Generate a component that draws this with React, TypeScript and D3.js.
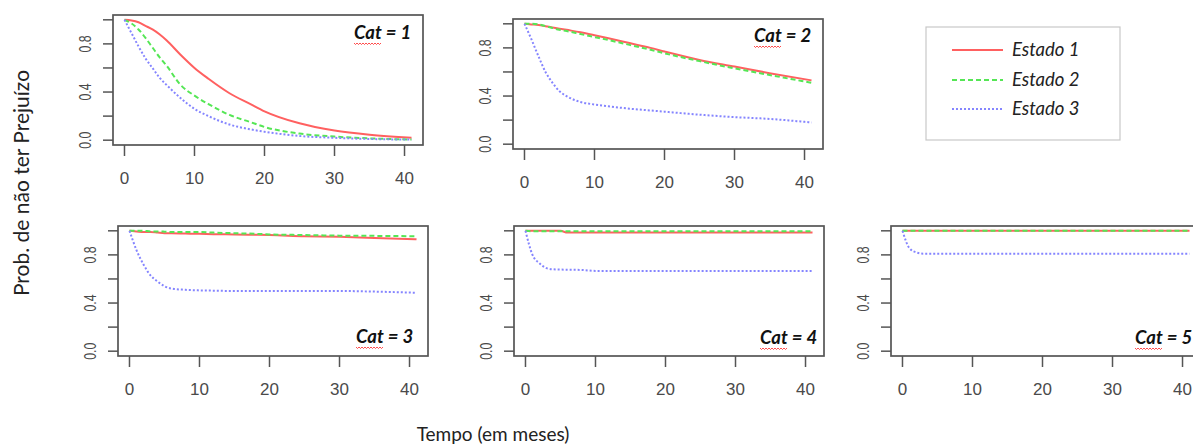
import React from "react";
import * as d3 from "d3";

// tempo (meses) onde as curvas foram lidas
const months = [0, 1, 2, 3, 4, 5, 6, 8, 10, 12, 15, 18, 20, 25, 30, 35, 41];

const states = ["Estado 1", "Estado 2", "Estado 3"];
const categories = ["Cat = 1", "Cat = 2", "Cat = 3", "Cat = 4", "Cat = 5"];

const cat1Estado1 = [1.0, 0.995, 0.98, 0.95, 0.92, 0.88, 0.83, 0.71, 0.6, 0.51, 0.39, 0.3, 0.24, 0.14, 0.08, 0.045, 0.02];
const cat1Estado2 = [1.0, 0.97, 0.92, 0.85, 0.77, 0.69, 0.62, 0.46, 0.37, 0.3, 0.21, 0.15, 0.11, 0.055, 0.03, 0.015, 0.005];
const cat1Estado3 = [1.0, 0.89, 0.78, 0.68, 0.6, 0.52, 0.46, 0.35, 0.26, 0.2, 0.13, 0.09, 0.07, 0.035, 0.02, 0.01, 0.005];

const cat2Estado1 = [1.0, 0.995, 0.99, 0.98, 0.97, 0.96, 0.95, 0.93, 0.905, 0.88, 0.84, 0.8, 0.77, 0.7, 0.645, 0.59, 0.53];
const cat2Estado2 = [1.0, 1.0, 0.995, 0.98, 0.965, 0.95, 0.94, 0.915, 0.89, 0.865, 0.825, 0.785, 0.755, 0.69, 0.63, 0.575, 0.51];
const cat2Estado3 = [1.0, 0.87, 0.73, 0.6, 0.51, 0.44, 0.4, 0.35, 0.33, 0.315, 0.295, 0.28, 0.27, 0.245, 0.225, 0.21, 0.18];

const cat3Estado1 = [1.0, 0.995, 0.99, 0.99, 0.985, 0.98, 0.98, 0.977, 0.975, 0.972, 0.97, 0.967, 0.965, 0.955, 0.95, 0.94, 0.93];
const cat3Estado2 = [1.0, 1.0, 1.0, 0.995, 0.995, 0.993, 0.99, 0.99, 0.99, 0.985, 0.98, 0.975, 0.97, 0.965, 0.96, 0.958, 0.955];
const cat3Estado3 = [1.0, 0.84, 0.72, 0.63, 0.58, 0.54, 0.52, 0.51, 0.505, 0.503, 0.5, 0.5, 0.5, 0.5, 0.5, 0.495, 0.485];

const cat4Estado1 = [1.0, 1.0, 1.0, 1.0, 1.0, 1.0, 0.985, 0.985, 0.985, 0.985, 0.985, 0.985, 0.985, 0.985, 0.985, 0.985, 0.985];
const cat4Estado2 = [1.0, 0.997, 0.997, 0.997, 0.997, 0.997, 0.997, 0.997, 0.997, 0.997, 0.997, 0.997, 0.997, 0.997, 0.997, 0.997, 0.997];
const cat4Estado3 = [1.0, 0.8, 0.73, 0.69, 0.68, 0.678, 0.677, 0.675, 0.667, 0.667, 0.667, 0.667, 0.667, 0.667, 0.667, 0.667, 0.667];

const cat5Estado1 = [1.0, 1.0, 1.0, 1.0, 1.0, 1.0, 1.0, 1.0, 1.0, 1.0, 1.0, 1.0, 1.0, 1.0, 1.0, 1.0, 1.0];
const cat5Estado2 = [1.0, 1.0, 1.0, 1.0, 1.0, 1.0, 1.0, 1.0, 1.0, 1.0, 1.0, 1.0, 1.0, 1.0, 1.0, 1.0, 1.0];
const cat5Estado3 = [1.0, 0.855, 0.82, 0.81, 0.81, 0.81, 0.81, 0.81, 0.81, 0.81, 0.81, 0.81, 0.81, 0.81, 0.81, 0.81, 0.81];

const seriesByCat = [
  [cat1Estado1, cat1Estado2, cat1Estado3],
  [cat2Estado1, cat2Estado2, cat2Estado3],
  [cat3Estado1, cat3Estado2, cat3Estado3],
  [cat4Estado1, cat4Estado2, cat4Estado3],
  [cat5Estado1, cat5Estado2, cat5Estado3],
];

const xTicks = [0, 10, 20, 30, 40];
const yTicks = [0, 0.2, 0.4, 0.6, 0.8, 1.0];
const yTickLabels = ["0.0", "", "0.4", "", "0.8", ""];

// estilos das linhas (cores do R: 2, 3, 4 com lty 1, 2, 3)
const lineColors = ["#ff6060", "#55e655", "#8585ff"];
const lineDash = [null, "5,3", "2,2"];

// posição de cada painel na página
const panels = [
  { left: 113, top: 15, labelX: 354, labelY: 39 },
  { left: 513, top: 19, labelX: 754, labelY: 42 },
  { left: 118, top: 226, labelX: 356, labelY: 343 },
  { left: 514, top: 226, labelX: 760, labelY: 344 },
  { left: 891, top: 226, labelX: 1135, labelY: 344 },
];
const boxW = 310;
const boxH = 130;

const axisColor = "#555";
const tickFont = "'Liberation Sans', Arial, sans-serif";
const textFont = "Lato, 'Open Sans', sans-serif";

const Squiggle = ({ x, y, w }: { x: number; y: number; w: number }) => {
  let d = `M${x},${y}`;
  for (let i = 0; i < w; i += 3) d += ` l1.5,1.5 l1.5,-1.5`;
  return <path d={d} fill="none" stroke="#ff2020" strokeWidth={0.8} />;
};

const Panel = ({ idx }: { idx: number }) => {
  const p = panels[idx];
  const x = d3.scaleLinear().domain([-1.64, 42.64]).range([p.left, p.left + boxW]);
  const y = d3.scaleLinear().domain([-0.04, 1.04]).range([p.top + boxH, p.top]);
  const line = d3
    .line<number>()
    .x((_, i) => x(months[i]))
    .y((d) => y(d))
    .curve(d3.curveMonotoneX);
  const bottom = p.top + boxH;

  return (
    <g>
      <defs>
        <clipPath id={`clip${idx}`}>
          <rect x={p.left} y={p.top} width={boxW} height={boxH} />
        </clipPath>
      </defs>
      <g clipPath={`url(#clip${idx})`}>
        {seriesByCat[idx].map((s, k) => (
          <path
            key={k}
            d={line(s) || ""}
            fill="none"
            stroke={lineColors[k]}
            strokeWidth={2}
            strokeDasharray={lineDash[k] || undefined}
          />
        ))}
      </g>
      <rect x={p.left} y={p.top} width={boxW} height={boxH} fill="none" stroke={axisColor} strokeWidth={1.7} />
      {/* eixo y */}
      {yTicks.map((t, i) => (
        <g key={i}>
          <line x1={p.left - 10} x2={p.left} y1={y(t)} y2={y(t)} stroke={axisColor} strokeWidth={1.5} />
          {yTickLabels[i] && (
            <text
              transform={`translate(${p.left - 22},${y(t)}) rotate(-90) scale(0.95,1.28)`}
              textAnchor="middle"
              fontFamily={tickFont}
              fontSize={13}
              fill="#4a4a4a"
            >
              {yTickLabels[i]}
            </text>
          )}
        </g>
      ))}
      {/* eixo x */}
      {xTicks.map((t) => (
        <g key={t}>
          <line x1={x(t)} x2={x(t)} y1={bottom} y2={bottom + 11} stroke={axisColor} strokeWidth={1.5} />
          <text x={x(t)} y={bottom + 39} textAnchor="middle" fontFamily={tickFont} fontSize={17} fill="#4a4a4a">
            {t}
          </text>
        </g>
      ))}
      <text x={p.labelX} y={p.labelY} fontFamily={textFont} fontStyle="italic" fontWeight="bold" fontSize={18.5} fill="#111">
        {categories[idx]}
      </text>
      <Squiggle x={p.labelX} y={p.labelY + 4} w={27} />
    </g>
  );
};

const Legend = () => {
  const left = 926;
  const top = 27;
  const rows = [50, 80, 109];
  return (
    <g>
      <rect x={left} y={top} width={194} height={113} fill="#fff" stroke="#c8c8c8" strokeWidth={1.2} />
      {states.map((s, k) => (
        <g key={s}>
          <line
            x1={952}
            x2={1003}
            y1={rows[k]}
            y2={rows[k]}
            stroke={lineColors[k]}
            strokeWidth={2}
            strokeDasharray={lineDash[k] || undefined}
          />
          <text x={1012} y={rows[k] + 6} fontFamily={textFont} fontStyle="italic" fontSize={18.5} fill="#222">
            {s}
          </text>
        </g>
      ))}
    </g>
  );
};

export default function App() {
  return (
    <svg width={1193} height={445} style={{ position: "absolute", left: 0, top: 0, background: "#fff" }}>
      {panels.map((_, i) => (
        <Panel key={i} idx={i} />
      ))}
      <Legend />
      <text
        transform="translate(29,183) rotate(-90)"
        textAnchor="middle"
        fontFamily={textFont}
        fontSize={21}
        fill="#222"
      >
        Prob. de não ter Prejuízo
      </text>
      <text x={493} y={441} textAnchor="middle" fontFamily={textFont} fontSize={19} fill="#222">
        Tempo (em meses)
      </text>
    </svg>
  );
}
